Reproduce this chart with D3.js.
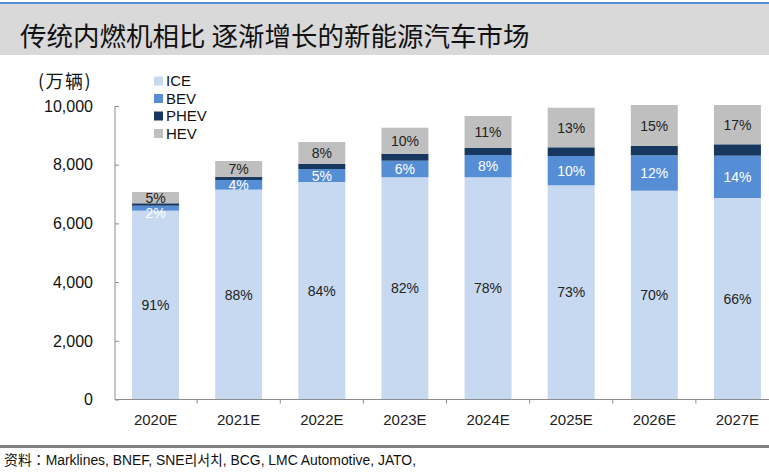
<!DOCTYPE html>
<html><head><meta charset="utf-8">
<script src="https://cdn.jsdelivr.net/npm/d3@7"></script>
<style>
html,body{margin:0;padding:0;background:#fff;}
svg{display:block;}
</style></head>
<body>
<script>
const categories = ["2020E","2021E","2022E","2023E","2024E","2025E","2026E","2027E"];
const seriesNames = ["ICE","BEV","PHEV","HEV"];
const ice  = [6433, 7150, 7411, 7571, 7571, 7298, 7114, 6865];
const bev  = [170, 330, 442, 565, 760, 998, 1206, 1442];
const phev = [82, 100, 171, 239, 249, 297, 317, 388];
const hev  = [385, 545, 749, 886, 1080, 1349, 1397, 1339];
const iceLabels = ["91%","88%","84%","82%","78%","73%","70%","66%"];
const bevLabels = ["2%","4%","5%","6%","8%","10%","12%","14%"];
const hevLabels = ["5%","7%","8%","10%","11%","13%","15%","17%"];
const yTicks = [0,2000,4000,6000,8000,10000];
const colors = ["#c6d9f0","#558ed5","#17375e","#bfbfbf"];

const W=769,H=472;
const svg=d3.select("body").append("svg").attr("width",W).attr("height",H);
const latin="'Liberation Sans', Arial, sans-serif";
const cjk="'Noto Sans CJK SC', 'Liberation Sans', sans-serif";

// header
svg.append("rect").attr("x",0).attr("y",2).attr("width",W).attr("height",2).attr("fill","#558ed5");
svg.append("rect").attr("x",0).attr("y",4).attr("width",W).attr("height",51).attr("fill","#d9d9d9");
svg.append("text").attr("x",20).attr("y",46).attr("font-family",cjk).attr("font-size",26.5)
  .attr("fill","#111").text("传统内燃机相比 逐渐增长的新能源汽车市场");

const x=d3.scaleBand().domain(categories).range([114,779]).paddingInner(0.435).paddingOuter(0.2175);
const y=d3.scaleLinear().domain([0,10000]).range([399.5,106]);

const data=categories.map((c,i)=>({cat:c,ICE:ice[i],BEV:bev[i],PHEV:phev[i],HEV:hev[i]}));
const stack=d3.stack().keys(seriesNames)(data);

const g=svg.append("g");
stack.forEach((layer,li)=>{
  g.selectAll(null).data(layer).enter().append("rect")
   .attr("x",d=>x(d.data.cat)).attr("width",x.bandwidth())
   .attr("y",d=>y(d[1])).attr("height",d=>y(d[0])-y(d[1]))
   .attr("fill",colors[li]);
});

// labels
const labelSets=[[0,iceLabels,"#222"],[1,bevLabels,"#fff"],[3,hevLabels,"#222"]];
labelSets.forEach(([li,labs,col])=>{
  g.selectAll(null).data(stack[li]).enter().append("text")
   .attr("x",d=>x(d.data.cat)+x.bandwidth()/2)
   .attr("y",d=>{
     const c=(y(d[0])+y(d[1]))/2, h=y(d[0])-y(d[1]);
     return (li===1 && h<8) ? c+5 : c;
   })
   .attr("dy","0.36em").attr("text-anchor","middle")
   .attr("font-family",latin).attr("font-size",14).attr("fill",col)
   .text((d,i)=>labs[i]);
});

// y axis
const axisCol="#8c8c8c";
const yAxis=svg.append("g").attr("transform","translate(115,0)")
  .call(d3.axisRight(y).tickValues(yTicks).tickSize(4).tickFormat(()=>""));
yAxis.select(".domain").attr("stroke",axisCol).attr("d","M0,"+y(10000)+"V"+y(0));
yAxis.selectAll("line").attr("stroke",axisCol);
svg.append("g").selectAll("text").data(yTicks).enter().append("text")
  .attr("x",93).attr("y",d=>y(d)).attr("dy","0.36em").attr("text-anchor","end")
  .attr("font-family",latin).attr("font-size",16).attr("fill","#111")
  .text(d=>d3.format(",")(d));

// x axis
const xb=svg.append("g").attr("transform","translate(0,"+y(0)+")");
xb.append("line").attr("x1",115).attr("x2",W).attr("y1",0).attr("y2",0).attr("stroke",axisCol);
const step=x.step();
xb.selectAll(null).data(categories.slice(1)).enter().append("line")
  .attr("x1",d=>x(d)-(step-x.bandwidth())/2).attr("x2",d=>x(d)-(step-x.bandwidth())/2)
  .attr("y1",0).attr("y2",4).attr("stroke",axisCol);
xb.selectAll(null).data(categories).enter().append("text")
  .attr("x",d=>x(d)+x.bandwidth()/2).attr("y",20).attr("dy","0.36em").attr("text-anchor","middle")
  .attr("font-family",latin).attr("font-size",15).attr("fill","#222").text(d=>d);

// y unit
svg.append("text").attr("x",38).attr("y",88).attr("font-family",cjk).attr("font-size",18)
  .attr("letter-spacing",1.5).attr("fill","#111").text("(万辆)");

// legend
const lg=svg.append("g");
seriesNames.forEach((s,i)=>{
  const yy=81+i*17.5;
  lg.append("rect").attr("x",154).attr("y",yy-4.5).attr("width",9).attr("height",9).attr("fill",colors[i]);
  lg.append("text").attr("x",166).attr("y",yy).attr("dy","0.36em").attr("font-family",latin)
    .attr("font-size",15).attr("fill","#111").text(s);
});

// footer
svg.append("rect").attr("x",0).attr("y",445).attr("width",W).attr("height",3).attr("fill","#808080");
svg.append("text").attr("x",4).attr("y",465).attr("font-family","'Liberation Sans', 'Noto Sans CJK KR', sans-serif")
  .attr("font-size",14).attr("textLength",412).attr("lengthAdjust","spacingAndGlyphs")
  .attr("fill","#111").text("资料：Marklines, BNEF, SNE리서치, BCG, LMC Automotive, JATO,");
</script>
</body></html>
